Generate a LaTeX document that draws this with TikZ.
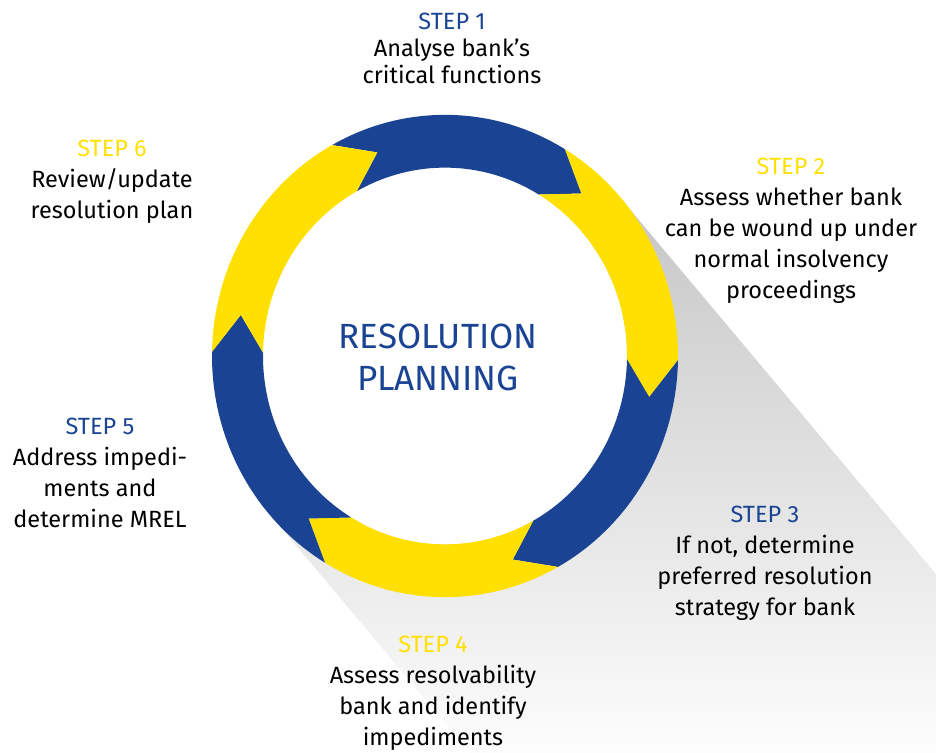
\documentclass[tikz,border=0pt]{standalone}
\usepackage{fontspec}
\setmainfont{Fira Sans}
\definecolor{eublue}{HTML}{1A4493}
\definecolor{euyellow}{HTML}{FFE000}
\definecolor{shadtop}{gray}{0.77}
\definecolor{shadbot}{gray}{0.99}
\tikzset{
  stepnote/.style={align=center,anchor=north,inner sep=0pt,font=\fontsize{23.5}{31}\selectfont},
}
\begin{document}
\begin{tikzpicture}[x=1pt,y=1pt]
\useasboundingbox (0,0) rectangle (936,752);
\pgfmathsetmacro{\R}{233}
\pgfmathsetmacro{\r}{182}
\pgfmathsetmacro{\m}{208}
\coordinate (c) at (445,396);
\begin{scope}[shift={(c)},yscale=1.035]
\coordinate (t1) at (41:\R-0.5);
\coordinate (t2) at (-139:\R-0.5);
\end{scope}
\begin{scope}
\clip (t1)--++(-50:900)--([shift={(-50:900)}]t2)--(t2)--cycle;
\shade[top color=shadtop,bottom color=shadbot](0,575) rectangle (936,0);
\end{scope}
\begin{scope}[shift={(c)},yscale=1.035]
\fill[white](0,0) circle (\r);
\foreach \a/\col in {119/eublue,59/euyellow,-1/eublue,-61/euyellow,-121/eublue,-181/euyellow}
  \fill[\col](\a:\R) arc[start angle=\a,end angle=\a-60,radius=\R]--({\a-70}:\m)--({\a-60}:\r)
    arc[start angle=\a-60,end angle=\a,radius=\r]--({\a-10}:\m)--cycle;
\end{scope}
\node[align=center,text=eublue,font=\fontsize{35}{42}\selectfont] (plan) at (438,395) {RESOLUTION\\PLANNING};
\node[stepnote,font=\fontsize{23.5}{27}\selectfont] (s1) at (452,739) {\textcolor{eublue}{STEP 1}\\Analyse bank’s\\critical functions};
\node[stepnote] (s2) at (791,594) {\textcolor{euyellow}{STEP 2}\\Assess whether bank\\can be wound up under\\normal insolvency\\proceedings};
\node[stepnote] (s3) at (765,246) {\textcolor{eublue}{STEP 3}\\If not, determine\\preferred resolution\\strategy for bank};
\node[stepnote] (s4) at (433,116) {\textcolor{euyellow}{STEP 4}\\Assess resolvability\\bank and identify\\impediments};
\node[stepnote] (s5) at (100,334) {\textcolor{eublue}{STEP 5}\\Address impedi-\\ments and\\determine MREL};
\node[stepnote] (s6) at (112,612) {\textcolor{euyellow}{STEP 6}\\Review/update\\resolution plan};
\end{tikzpicture}
\end{document}
